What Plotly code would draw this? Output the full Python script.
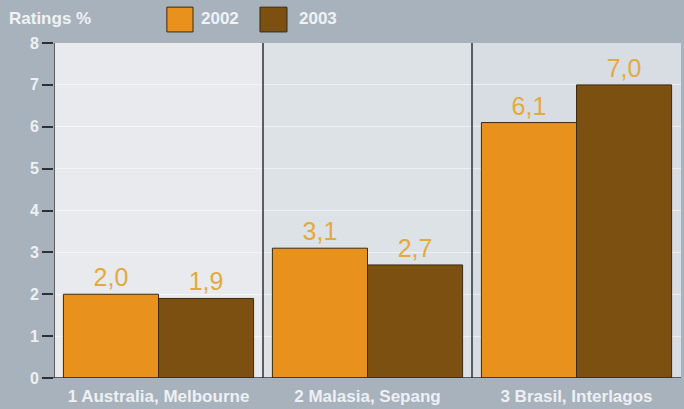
import plotly.graph_objects as go

categories = ["1 Australia, Melbourne", "2 Malasia, Sepang", "3 Brasil, Interlagos"]
series_names = ["2002", "2003"]
values_2002 = [2.0, 3.1, 6.1]
values_2003 = [1.9, 2.7, 7.0]
y_ticks = [0, 1, 2, 3, 4, 5, 6, 7, 8]

colors = ["#e8911c", "#7b5011"]
FONT = "Liberation Sans"

def fmt(v):
    return f"{v:.1f}".replace(".", ",")

fig = go.Figure()
for name, vals, col in zip(series_names, [values_2002, values_2003], colors):
    fig.add_trace(go.Bar(
        x=categories, y=vals, name=name,
        marker=dict(color=col, line=dict(color="#3a2a12", width=1)),
        text=[fmt(v) for v in vals], textposition="outside",
        textfont=dict(family=FONT, size=25, color="#e2aa3c"),
        cliponaxis=False, showlegend=False,
    ))

panel_colors = ["#e8eaed", "#dde2e7", "#d8dde4"]
shapes = []
for i, pc in enumerate(panel_colors):
    shapes.append(dict(type="rect", xref="x", yref="y", x0=i - 0.5, x1=i + 0.5,
                       y0=0, y1=8, fillcolor=pc, line=dict(width=0), layer="below"))
for xv in [-0.5, 0.5, 1.5]:
    shapes.append(dict(type="line", xref="x", yref="y", x0=xv, x1=xv, y0=-0.24, y1=8,
                       line=dict(color="#2f2f35", width=1.5)))
shapes.append(dict(type="line", xref="paper", yref="y", x0=-0.004, x1=1.0, y0=0, y1=0,
                   line=dict(color="#2f2f35", width=1.5)))

leg_x = [(0.180, 0.2217), (0.3285, 0.3716)]
for (x0, x1), col in zip(leg_x, colors):
    shapes.append(dict(type="rect", xref="paper", yref="paper", x0=x0, x1=x1,
                       y0=1.033, y1=1.107, fillcolor=col,
                       line=dict(color="#3a2a12", width=1)))

label_font = dict(family=FONT, size=17, color="#f0f2f4", weight="bold")
annotations = [
    dict(text="Ratings %", xref="paper", yref="paper", x=-0.075, y=1.072,
         xanchor="left", yanchor="middle", showarrow=False, font=label_font),
]
for name, xt in zip(series_names, [0.232, 0.3875]):
    annotations.append(dict(text=name, xref="paper", yref="paper", x=xt, y=1.072,
                            xanchor="left", yanchor="middle", showarrow=False,
                            font=label_font))

fig.update_layout(
    width=684, height=409,
    margin=dict(l=54, r=3, t=43, b=31),
    paper_bgcolor="#a8b2bd", plot_bgcolor="rgba(0,0,0,0)",
    barmode="group", bargap=0.09, bargroupgap=0,
    shapes=shapes, annotations=annotations,
    showlegend=False,
    xaxis=dict(type="category", showgrid=False, showline=False, ticks="",
               tickfont=dict(family=FONT, size=17, color="#eef0f3", weight="bold"),
               ticklabelstandoff=6,
               range=[-0.5, 2.5], fixedrange=True),
    yaxis=dict(range=[0, 8], tickvals=y_ticks, showgrid=True,
               gridcolor="rgba(255,255,255,0.5)", gridwidth=1,
               zeroline=False, showline=False, ticks="outside", ticklen=11,
               tickcolor="#2f2f35", tickwidth=1.5,
               tickfont=dict(family=FONT, size=16, color="#eef0f3", weight="bold")),
)

fig.write_html("out.html")
